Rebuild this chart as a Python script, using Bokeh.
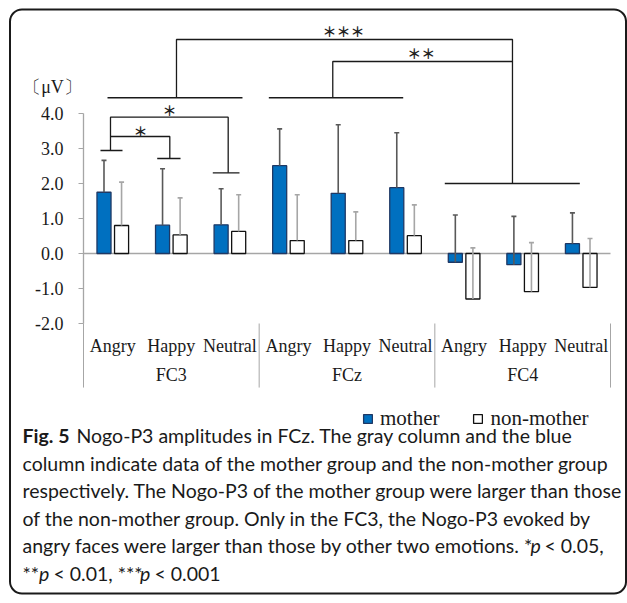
from bokeh.plotting import figure
from bokeh.models import (Range1d, LinearAxis, FixedTicker, NumeralTickFormatter,
                          Label, Legend, LegendItem, ColumnDataSource)
from bokeh.embed import file_html
from bokeh.resources import INLINE
from bokeh.core.properties import value

# ---------------- data ----------------
sites = ["FC3", "FCz", "FC4"]
emotions = ["Angry", "Happy", "Neutral"]
mother = [1.75, 0.81, 0.82, 2.51, 1.72, 1.88, -0.25, -0.32, 0.28]
mother_sd = [0.91, 1.61, 1.03, 1.05, 1.96, 1.57, 1.35, 1.38, 0.88]
non_mother = [0.80, 0.53, 0.63, 0.37, 0.37, 0.51, -1.30, -1.09, -0.97]
non_mother_sd = [1.24, 1.06, 1.05, 1.31, 0.82, 0.88, 1.46, 1.40, 1.40]
y_ticks = [-2, -1, 0, 1, 2, 3, 4]
unit_label = "〔μV〕"
series_names = ["mother", "non-mother"]

caption_lines = [
    "Nogo-P3 amplitudes in FCz. The gray column and the blue",
    "column indicate data of the mother group and the non-mother group",
    "respectively. The Nogo-P3 of the mother group were larger than those",
    "of the non-mother group. Only in the FC3, the Nogo-P3 evoked by",
    "angry faces were larger than those by other two emotions. *",
]
caption_bold = "Fig. 5"

# ---------------- layout constants ----------------
W, H = 627, 603
u = 527 / 9.0          # px per category
py = 35.0              # px per microvolt
x0_px, y0_px = 83.0, 253.0   # canvas px of (x=0, y=0)
x_range = Range1d(-x0_px / u, (W - x0_px) / u)
y_range = Range1d(-(H - y0_px) / py, y0_px / py)

p = figure(width=W, height=H, x_range=x_range, y_range=y_range,
           x_axis_location=None, y_axis_location=None,
           toolbar_location=None, output_backend="svg", min_border=0,
           outline_line_color=None, background_fill_color="white",
           border_fill_color="white")
p.grid.grid_line_color = None

n_cat = len(sites) * len(emotions)
centers = [i + 0.5 for i in range(n_cat)]
off, bw = 0.15, 0.24
xm = [c - off for c in centers]
xn = [c + off for c in centers]

# zero line and group separators
p.segment(x0=[0], y0=[0], x1=[n_cat], y1=[0], line_color="#a6a6a6", line_width=1.5)
sep_x = [k * len(emotions) for k in range(len(sites) + 1)]
p.segment(x0=sep_x, y0=[-2] * len(sep_x), x1=sep_x, y1=[-3.83] * len(sep_x),
          line_color="#a6a6a6", line_width=1)

# bars
src_m = ColumnDataSource(dict(x=xm, top=mother, err=[m + s for m, s in zip(mother, mother_sd)]))
src_n = ColumnDataSource(dict(x=xn, top=non_mother, err=[m + s for m, s in zip(non_mother, non_mother_sd)]))
bar_m = p.vbar(x="x", top="top", bottom=0, width=bw, source=src_m,
               fill_color="#0070C0", line_color="#1F3864", line_width=1.3)
bar_n = p.vbar(x="x", top="top", bottom=0, width=bw, source=src_n,
               fill_color="white", line_color="#111111", line_width=1.3)

# error bars (plus direction only)
for src, col in ((src_m, "#595959"), (src_n, "#a6a6a6")):
    p.segment(x0="x", y0="top", x1="x", y1="err", source=src, line_color=col, line_width=1.6)
    p.scatter(x="x", y="err", source=src, marker="dash", size=5, line_color=col, line_width=1.6)

# significance brackets
bk = "#1a1a1a"
br_xs = [
    [0.41, 2.715], [3.165, 5.46], [6.17, 8.476],                 # group bars
    [1.588, 1.588, 7.326, 7.326],                                # ***
    [4.257, 4.257, 7.326],                                       # **
    [0.29, 0.666], [2.208, 2.664], [1.259, 1.657],               # caps
    [0.461, 0.461, 2.471, 2.471],                                # * outer
    [0.461, 1.474, 1.474],                                       # * inner
]
br_ys = [
    [4.45, 4.45], [4.45, 4.45], [2.0, 2.0],
    [4.45, 6.114, 6.114, 2.0],
    [4.45, 5.486, 5.486],
    [2.943, 2.943], [2.306, 2.306], [2.714, 2.714],
    [2.943, 3.894, 3.894, 2.306],
    [3.343, 3.343, 2.714],
]
p.multi_line(xs=br_xs, ys=br_ys, line_color=bk, line_width=1.3)
p.text(x=[4.44, 5.77, 1.469, 0.973], y=[6.37, 5.72, 4.114, 3.514],
       text=["＊＊＊", "＊＊", "＊", "＊"], text_align="center", text_baseline="middle",
       text_font=value("Noto Sans CJK JP"), text_font_size="14px", text_font_style="bold",
       text_color="#222222")

# axes
serif = "Liberation Serif"
yax = LinearAxis(fixed_location=0, bounds=(min(y_ticks), max(y_ticks)),
                 ticker=FixedTicker(ticks=y_ticks, minor_ticks=[]),
                 formatter=NumeralTickFormatter(format="0.0"),
                 axis_line_color="#a6a6a6", axis_line_width=1.3,
                 major_tick_line_color="#a6a6a6", major_tick_out=5, major_tick_in=0,
                 minor_tick_line_color=None,
                 major_label_text_font=serif, major_label_text_font_size="18px",
                 major_label_text_color="#1a1a1a", major_label_standoff=15)
p.add_layout(yax, "left")

emo_labels = [e for s in sites for e in emotions]
xax = LinearAxis(fixed_location=min(y_ticks),
                 ticker=FixedTicker(ticks=centers, minor_ticks=[]),
                 major_label_overrides={c: lab for c, lab in zip(centers, emo_labels)},
                 axis_line_color=None, major_tick_line_color=None, minor_tick_line_color=None,
                 major_label_text_font=serif, major_label_text_font_size="18px",
                 major_label_text_color="#1a1a1a", major_label_standoff=6)
p.add_layout(xax, "below")
grp_centers = [k * len(emotions) + len(emotions) / 2 for k in range(len(sites))]
gax = LinearAxis(fixed_location=min(y_ticks),
                 ticker=FixedTicker(ticks=grp_centers, minor_ticks=[]),
                 major_label_overrides={c: s for c, s in zip(grp_centers, sites)},
                 axis_line_color=None, major_tick_line_color=None, minor_tick_line_color=None,
                 major_label_text_font=serif, major_label_text_font_size="18px",
                 major_label_text_color="#1a1a1a", major_label_standoff=35)
p.add_layout(gax, "below")

p.add_layout(Label(x=-0.529, y=4.76, text=unit_label, text_align="center",
                   text_baseline="middle", text_font=serif, text_font_size="18px",
                   text_color="#1a1a1a"))

# legend
legend = Legend(items=[LegendItem(label=series_names[0], renderers=[bar_m]),
                       LegendItem(label=series_names[1], renderers=[bar_n])],
                orientation="horizontal", location=(362, 172),
                border_line_color=None, background_fill_alpha=0,
                padding=0, margin=0, spacing=33, label_standoff=7,
                glyph_width=11, glyph_height=11,
                label_text_font=serif, label_text_font_size="21px",
                label_text_color="#1a1a1a")
p.add_layout(legend)

# border
p.quad(left=[-1.2552], right=[9.265], top=[6.971], bottom=[-9.714],
       fill_color=None, line_color="#1a1a1a", line_width=2, border_radius=12)

# caption
cf = "Lato"
cs = "19.5px"
line_y = [168, 140.5, 113, 85.5, 58, 30.5]
def cap(text, x, y, style="normal"):
    p.add_layout(Label(x=x, y=y, x_units="screen", y_units="screen", text=text,
                       text_font=cf, text_font_size=cs, text_font_style=style,
                       text_baseline="middle", text_color="#1a1a1a"))

cap(caption_bold, 22, line_y[0], "bold")
cap(caption_lines[0], 76, line_y[0])
for i in range(1, 5):
    cap(caption_lines[i], 22, line_y[i])
cap("p", 530, line_y[4], "italic")
cap("< 0.05,", 544, line_y[4])
for t, x, st in [("**", 22, "normal"), ("p", 38.5, "italic"), ("< 0.01, ***", 53, "normal"),
                 ("p", 139.5, "italic"), ("< 0.001", 154, "normal")]:
    cap(t, x, line_y[5], st)

open("out.html", "w").write(file_html(p, INLINE))
